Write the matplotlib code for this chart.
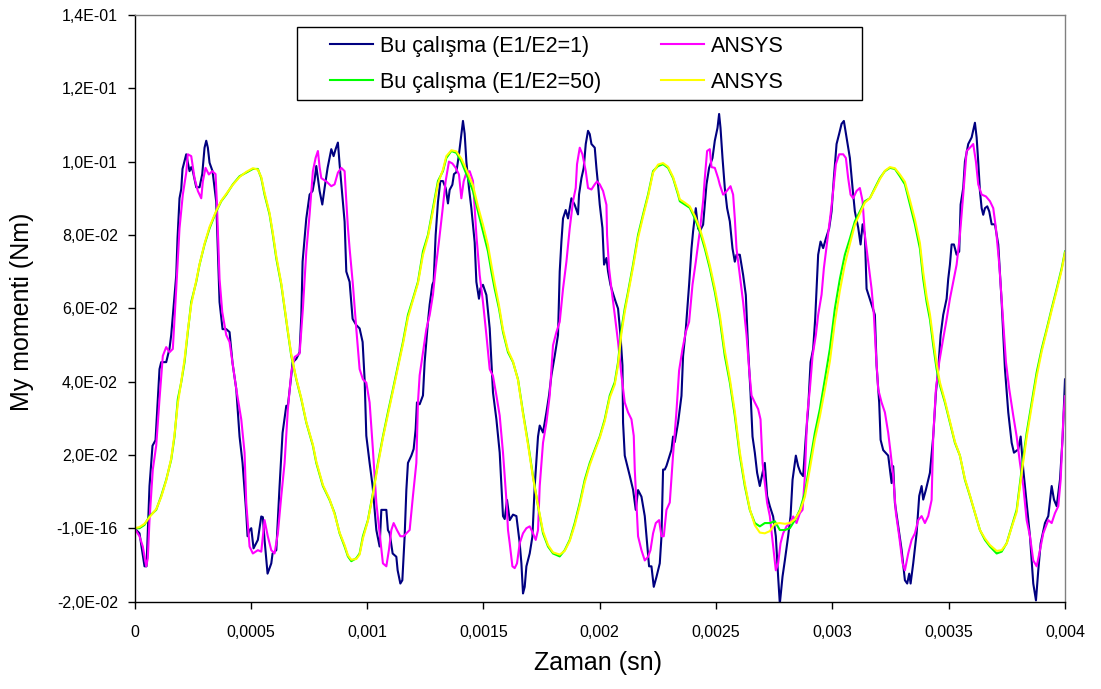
import numpy as np
import matplotlib
matplotlib.use("Agg")
import matplotlib.pyplot as plt
from matplotlib.patches import Rectangle

plt.rcParams['font.family'] = ['Liberation Sans', 'DejaVu Sans']

# ---- Time (microseconds) and My moment (Nm) samples ----
# Bu çalışma (E1/E2=1)
t_calisma_1 = [
    0, 21.5, 43, 51.6, 64.5, 77.4, 90.3, 107.5, 114.8, 136.3,
    150.5, 157.8, 163.4, 172, 179.4, 184.9, 193.5, 200.9, 206.4, 222.4,
    236.6, 243.9, 250.8, 265.4, 279.6, 291.2, 301.1, 308.4, 315.3, 322.6,
    335.5, 351.4, 357, 365.6, 378.5, 394.4, 408.6, 421.5, 437.4, 451.6,
    464.5, 480.4, 486, 494.6, 501.9, 511.8, 530.3, 544.9, 551.8, 559.1,
    572, 588, 593.5, 609.5, 623.6, 636.5, 652.5, 659.3, 674, 679.6,
    695.5, 709.7, 717, 722.6, 738.5, 752.7, 765.6, 774.2, 781.5, 795.7,
    807.3, 817.2, 830.1, 846, 855.9, 864.5, 874.4, 881.7, 894.6, 903.2,
    910.5, 924.7, 937.6, 953.5, 967.7, 980.6, 989.2, 996.5, 1010.7, 1023.6,
    1039.6, 1053.7, 1061.1, 1082.6, 1089.4, 1096.8, 1109.7, 1125.6, 1131.2, 1142.8,
    1151.4, 1161.3, 1168.6, 1175.5, 1190.1, 1200, 1208.6, 1214.2, 1225.8, 1240,
    1247.3, 1261.5, 1268.8, 1280.4, 1286, 1294.6, 1304.5, 1314.8, 1326, 1337.6,
    1347.5, 1354.8, 1366.4, 1373.3, 1383.6, 1394.8, 1405.1, 1412, 1419.3, 1426.6,
    1437.8, 1448.1, 1455, 1462.3, 1469.6, 1480.8, 1486.8, 1498, 1512.7, 1526.9,
    1541.1, 1555.7, 1569.9, 1584.1, 1591.4, 1601.3, 1612.9, 1627.1, 1641.7, 1655.9,
    1663.2, 1670.1, 1677.4, 1684.7, 1698.9, 1710.5, 1720.4, 1734.6, 1741.9, 1756.1,
    1770.7, 1781.9, 1792.2, 1806.4, 1820.6, 1827.9, 1835.2, 1842.1, 1853.7, 1863.6,
    1870.9, 1878.2, 1892.4, 1906.6, 1910.9, 1921.3, 1931.1, 1939.8, 1949.6, 1957,
    1964.3, 1978.5, 1985.8, 1992.7, 2000, 2011.6, 2018.5, 2028.8, 2035.7, 2046,
    2054.6, 2068.8, 2078.7, 2089, 2097.6, 2100.2, 2107.5, 2129, 2143.2, 2154.8,
    2164.7, 2179.3, 2193.5, 2203.4, 2212, 2222.3, 2232.2, 2243.8, 2258, 2265.3,
    2272.2, 2279.5, 2286.8, 2308.3, 2315.2, 2322.5, 2336.7, 2351.3, 2358.2, 2369.9,
    2375.4, 2384.1, 2394.4, 2401.3, 2412.9, 2422.8, 2430.1, 2444.3, 2458.9, 2470.1,
    2484.7, 2494.6, 2506.2, 2513.1, 2519.1, 2527.7, 2537.6, 2547.5, 2559.1, 2570.7,
    2580.6, 2587.9, 2602.1, 2616.3, 2627.9, 2637.8, 2648.1, 2656.7, 2666.6, 2676.5,
    2688.1, 2699.8, 2709.6, 2719.5, 2731.1, 2745.3, 2756.9, 2766.8, 2774.1, 2785.7,
    2795.7, 2809.8, 2820.2, 2828.8, 2843, 2852.9, 2863.2, 2874.4, 2886, 2895.9,
    2906.2, 2917.4, 2926, 2938.9, 2949.2, 2960.4, 2972, 2986.2, 2996.5, 3006.4,
    3018, 3029.2, 3039.5, 3049.4, 3061, 3075.2, 3086.8, 3096.7, 3111, 3121.3,
    3129.9, 3139.7, 3147, 3182.7, 3190, 3201.2, 3207.3, 3218.5, 3240, 3254.6,
    3261.5, 3268.8, 3283, 3297.6, 3311.8, 3321.7, 3330.3, 3336.3, 3347.5, 3362.1,
    3373.3, 3383.6, 3390.5, 3402.1, 3419.3, 3433.5, 3445.1, 3455, 3465.3, 3476.5,
    3491.1, 3498, 3505.3, 3512.6, 3522.5, 3534.1, 3545.3, 3551.3, 3562.5, 3569.8,
    3584, 3598.6, 3608.5, 3612.8, 3620.1, 3627, 3634.3, 3641.7, 3648.5, 3655.9,
    3665.8, 3674.4, 3684.7, 3698.9, 3713.1, 3727.7, 3741.9, 3756.1, 3770.7, 3780.6,
    3799.1, 3809.4, 3820.6, 3835.2, 3849.4, 3863.6, 3875.2, 3885.1, 3895.4, 3913.9,
    3928.1, 3942.7, 3952.6, 3964.2, 3978.4, 3990, 4000,
]
my_calisma_1 = [
    0.0, -0.0014, -0.0104, -0.0104, 0.0115, 0.0225, 0.024, 0.0434, 0.0453, 0.0453,
    0.049, 0.0527, 0.057, 0.0637, 0.069, 0.079, 0.09, 0.0925, 0.098, 0.102,
    0.0974, 0.0985, 0.0974, 0.093, 0.093, 0.0966, 0.1038, 0.1057, 0.1038, 0.0997,
    0.0974, 0.089, 0.078, 0.0617, 0.0543, 0.0543, 0.0535, 0.045, 0.038, 0.025,
    0.0178, 0.0041, -0.0022, -0.0005, 0.0, -0.0055, -0.0032, 0.0032, 0.003, -0.0032,
    -0.0124, -0.0096, -0.0069, -0.006, 0.0114, 0.026, 0.0334, 0.0334, 0.0417, 0.0452,
    0.0462, 0.048, 0.058, 0.0727, 0.0845, 0.091, 0.092, 0.095, 0.0988, 0.092,
    0.0883, 0.0928, 0.0983, 0.1034, 0.1015, 0.1034, 0.1052, 0.0993, 0.090, 0.0836,
    0.070, 0.0672, 0.0571, 0.0554, 0.0545, 0.0508, 0.0406, 0.0252, 0.0178, 0.0115,
    -0.0005, -0.005, 0.005, 0.005, -0.0005, -0.0014, -0.0069, -0.0078, -0.0115, -0.0151,
    -0.0142, -0.0022, 0.0104, 0.0178, 0.0198, 0.0216, 0.027, 0.0343, 0.0338, 0.0362,
    0.0453, 0.0563, 0.061, 0.0664, 0.0673, 0.080, 0.089, 0.0947, 0.0947, 0.0928,
    0.0886, 0.0923, 0.0937, 0.0966, 0.0971, 0.102, 0.1076, 0.1111, 0.1076, 0.100,
    0.0928, 0.0873, 0.0829, 0.078, 0.0672, 0.0626, 0.0654, 0.0664, 0.0636, 0.0545,
    0.037, 0.0297, 0.0206, 0.0033, 0.0025, 0.0077, 0.0022, 0.0037, 0.0033, -0.0041,
    -0.0096, -0.0178, -0.016, -0.0104, -0.0069, -0.0023, 0.0115, 0.025, 0.028, 0.0261,
    0.0316, 0.0362, 0.0417, 0.047, 0.0527, 0.070, 0.0782, 0.0845, 0.0868, 0.0845,
    0.0873, 0.090, 0.0882, 0.0856, 0.091, 0.0955, 0.0983, 0.1048, 0.1084, 0.1075,
    0.1048, 0.1038, 0.0982, 0.0937, 0.0883, 0.0819, 0.0719, 0.0737, 0.070, 0.0664,
    0.0645, 0.0617, 0.0599, 0.0527, 0.0444, 0.0288, 0.0198, 0.0143, 0.0105, 0.005,
    0.0104, 0.0086, 0.0033, -0.004, -0.0104, -0.0104, -0.016, -0.0133, -0.0096, -0.0023,
    0.016, 0.016, 0.017, 0.0214, 0.025, 0.0235, 0.0288, 0.0361, 0.047, 0.0543,
    0.0589, 0.0664, 0.0763, 0.081, 0.0873, 0.0818, 0.081, 0.0828, 0.0938, 0.0983,
    0.101, 0.1057, 0.1092, 0.113, 0.1092, 0.101, 0.0928, 0.0873, 0.0837, 0.0763,
    0.0727, 0.0746, 0.0746, 0.0691, 0.0636, 0.0489, 0.037, 0.025, 0.0206, 0.0151,
    0.0115, 0.0151, 0.0178, 0.0088, 0.006, 0.0032, -0.0022, -0.0132, -0.0206, -0.0132,
    -0.0088, -0.0022, 0.0033, 0.0132, 0.0198, 0.0169, 0.0151, 0.0142, 0.025, 0.0325,
    0.0453, 0.0489, 0.057, 0.0746, 0.0782, 0.0764, 0.079, 0.0818, 0.0864, 0.0955,
    0.1048, 0.1076, 0.1103, 0.1111, 0.1065, 0.101, 0.0928, 0.0864, 0.082, 0.0774,
    0.0829, 0.080, 0.0653, 0.0582, 0.0444, 0.0343, 0.0241, 0.0213, 0.0198, 0.0123,
    0.0169, 0.0069, 0.0005, -0.0059, -0.0142, -0.0151, -0.0124, -0.0151, -0.0096, -0.0014,
    0.0088, 0.0115, 0.0078, 0.0105, 0.0151, 0.025, 0.037, 0.0434, 0.0527, 0.0582,
    0.0626, 0.068, 0.0719, 0.0774, 0.0774, 0.0746, 0.0755, 0.0883, 0.0928, 0.100,
    0.1048, 0.1066, 0.1093, 0.1106, 0.1066, 0.100, 0.092, 0.0873, 0.0855, 0.0873,
    0.0878, 0.0864, 0.0829, 0.0829, 0.0774, 0.0617, 0.0434, 0.0316, 0.0233, 0.0206,
    0.0215, 0.025, 0.016, 0.0069, -0.0022, -0.0151, -0.0197, -0.0115, -0.0041, 0.0014,
    0.0033, 0.0115, 0.0078, 0.006, 0.0132, 0.025, 0.0406,
]

# ANSYS (E1/E2=1)
t_ansys_1 = [
    0, 21.5, 35.7, 50.3, 57.2, 64.5, 78.7, 93.3, 107.5, 121.7,
    136.3, 150.5, 164.7, 179.4, 193.5, 207.7, 222.4, 229.2, 243.9, 258.1,
    272.3, 286.9, 293.8, 305.4, 319.6, 334.2, 348.4, 354, 365.6, 377.2,
    394.4, 408.6, 422.8, 437.4, 458.9, 473.1, 480.4, 494.6, 508.8, 530.3,
    544.9, 559.1, 573.3, 588, 602.1, 616.3, 631, 645.2, 659.3, 674,
    688.2, 709.7, 723.9, 738.5, 752.7, 766.9, 778.5, 788.4, 795.7, 803,
    824.5, 846, 860.2, 874.4, 889, 903.2, 910.5, 917.4, 924.7, 938.9,
    953.5, 967.7, 981.9, 996.5, 1010.7, 1024.9, 1039.6, 1053.7, 1067.9, 1082.6,
    1093.8, 1104.1, 1114, 1128.2, 1142.8, 1157, 1168.6, 1182.8, 1197, 1211.6,
    1218.5, 1225.8, 1240, 1254.6, 1268.8, 1283, 1294.6, 1308.8, 1323.4, 1337.6,
    1351.8, 1366.4, 1380.6, 1394.8, 1405.1, 1415, 1426.6, 1440.8, 1455, 1469.6,
    1483.8, 1498, 1512.7, 1526.9, 1541.1, 1555.7, 1569.9, 1584.1, 1598.7, 1605.6,
    1612.9, 1624.5, 1634.4, 1644.3, 1655.9, 1670.1, 1684.7, 1698.9, 1713.1, 1724.7,
    1734.6, 1741.9, 1756.1, 1770.7, 1784.9, 1792.2, 1799.1, 1813.7, 1827.9, 1842.1,
    1856.7, 1870.9, 1885.1, 1896.7, 1902.3, 1914, 1925.6, 1939.8, 1949.6, 1964.3,
    1978.5, 1988.4, 2000, 2014.2, 2028.8, 2031.4, 2040, 2050.3, 2064.5, 2078.7,
    2093.3, 2107.5, 2121.7, 2136.3, 2146.2, 2150.5, 2157.8, 2164.7, 2179.3, 2193.5,
    2207.7, 2218, 2229.2, 2240.9, 2255, 2265.3, 2275.2, 2286.8, 2301, 2315.2,
    2329.9, 2341.1, 2355.6, 2369.9, 2384.1, 2398.7, 2412.9, 2430.1, 2444.3, 2451.6,
    2461.5, 2473.1, 2480.4, 2494.6, 2508.8, 2516.1, 2530.3, 2544.9, 2562.1, 2573.3,
    2580.6, 2587.9, 2602.1, 2616.3, 2630.9, 2642.1, 2652.5, 2666.6, 2680.9, 2691.1,
    2699.8, 2709.6, 2719.5, 2731.1, 2745.3, 2756.9, 2766.8, 2777.2, 2788.4, 2803,
    2817.2, 2831.4, 2846, 2860.2, 2871.8, 2881.7, 2891.6, 2903.2, 2914.8, 2929,
    2938.9, 2953.5, 2963.4, 2977.6, 2992.2, 3003.4, 3015, 3029.2, 3046.4, 3058,
    3067.9, 3078.2, 3089.4, 3104, 3118.2, 3129.9, 3139.7, 3153.9, 3168.5, 3178.4,
    3187, 3196.9, 3211.5, 3225.8, 3240, 3250.3, 3261.5, 3273.1, 3287.3, 3301.9,
    3311.8, 3326, 3340.6, 3354.8, 3369, 3383.6, 3397.8, 3412, 3426.6, 3433.5,
    3445.1, 3459.3, 3473.9, 3491.1, 3505.3, 3519.5, 3534.1, 3548.3, 3562.5, 3577.1,
    3591.3, 3605.5, 3617.1, 3627, 3641.7, 3660.2, 3677.4, 3691.6, 3703.2, 3717.4,
    3732, 3746.2, 3760.4, 3777.6, 3792.2, 3806.4, 3820.6, 3835.2, 3849.4, 3863.6,
    3878.2, 3892.4, 3906.6, 3928.1, 3942.7, 3956.9, 3971.1, 3981.4, 3992.6, 4000,
]
my_ansys_1 = [
    0.0, -0.0022, -0.005, -0.0104, -0.0082, 0.0022, 0.016, 0.0225, 0.0352, 0.047,
    0.0494, 0.048, 0.0489, 0.0653, 0.0818, 0.091, 0.097, 0.102, 0.1015, 0.0955,
    0.092, 0.090, 0.0946, 0.0983, 0.0965, 0.0974, 0.0966, 0.089, 0.068, 0.059,
    0.0527, 0.0508, 0.0444, 0.038, 0.0297, 0.0206, 0.0069, -0.005, -0.0069, -0.006,
    -0.0064, 0.0022, -0.0023, -0.006, -0.0069, -0.0014, 0.0088, 0.0178, 0.0325, 0.0425,
    0.0467, 0.0476, 0.0599, 0.0755, 0.0856, 0.0974, 0.101, 0.1029, 0.0985, 0.0955,
    0.0946, 0.0933, 0.0938, 0.097, 0.0983, 0.0974, 0.0892, 0.082, 0.0763, 0.0664,
    0.0543, 0.0434, 0.0406, 0.0397, 0.0343, 0.0214, 0.0069, -0.0014, -0.0096, -0.0104,
    -0.0059, -0.0005, 0.0014, -0.0005, -0.0022, -0.0022, -0.0014, -0.0005, 0.0088, 0.0178,
    0.0343, 0.0417, 0.048, 0.0543, 0.0581, 0.0637, 0.0709, 0.0782, 0.0864, 0.0947,
    0.100, 0.0995, 0.0983, 0.0965, 0.090, 0.0946, 0.097, 0.0974, 0.0947, 0.080,
    0.0691, 0.0617, 0.0527, 0.0434, 0.0415, 0.0362, 0.0307, 0.0206, 0.0077, -0.0005,
    -0.0041, -0.0104, -0.0109, -0.0096, -0.0041, -0.0014, 0.0, 0.0005, -0.0014, -0.0032,
    -0.0005, 0.0115, 0.0233, 0.0288, 0.0362, 0.0434, 0.0499, 0.0535, 0.0563, 0.0653,
    0.0727, 0.0818, 0.0892, 0.0928, 0.0993, 0.1038, 0.102, 0.0974, 0.0928, 0.0924,
    0.0938, 0.0946, 0.0938, 0.092, 0.0882, 0.080, 0.0709, 0.0653, 0.0582, 0.0508,
    0.0417, 0.0343, 0.0316, 0.0297, 0.0252, 0.016, 0.0069, -0.0022, -0.006, -0.0088,
    -0.0078, -0.006, -0.0014, 0.0014, 0.0022, -0.0022, -0.0022, 0.005, 0.007, 0.020,
    0.032, 0.043, 0.0489, 0.0535, 0.0563, 0.0664, 0.0727, 0.081, 0.0892, 0.0955,
    0.1029, 0.1034, 0.0985, 0.0983, 0.0955, 0.0937, 0.091, 0.0919, 0.0933, 0.091,
    0.0845, 0.0763, 0.0691, 0.0617, 0.0527, 0.0434, 0.0362, 0.0343, 0.0325, 0.0297,
    0.0178, 0.0124, 0.0069, 0.0033, -0.005, -0.0115, -0.0096, -0.0041, -0.0014, 0.0005,
    0.0014, 0.0032, 0.0014, 0.0041, 0.005, 0.0142, 0.0307, 0.0379, 0.047, 0.0527,
    0.0582, 0.0637, 0.0709, 0.0782, 0.0856, 0.092, 0.0993, 0.102, 0.102, 0.101,
    0.0955, 0.091, 0.090, 0.092, 0.0928, 0.0892, 0.080, 0.0727, 0.0653, 0.0582,
    0.048, 0.0379, 0.0343, 0.0316, 0.026, 0.0206, 0.0142, 0.0041, -0.0022, -0.0096,
    -0.0115, -0.0069, -0.0032, -0.0014, 0.0022, 0.0033, 0.0014, 0.0033, 0.0077, 0.025,
    0.0379, 0.0453, 0.0508, 0.057, 0.0626, 0.0672, 0.0719, 0.080, 0.091, 0.1029,
    0.1038, 0.1048, 0.100, 0.0938, 0.091, 0.0905, 0.0892, 0.0873, 0.0818, 0.0719,
    0.0582, 0.0453, 0.0379, 0.0307, 0.025, 0.0178, 0.0115, 0.0022, -0.0022, -0.0088,
    -0.0104, -0.006, -0.0014, 0.0022, 0.0014, 0.0041, 0.006, 0.0132, 0.0297, 0.036,
]

# E1/E2=50 : shared time base for both solutions
t_50 = [
    0, 21.5, 43, 64.5, 93.3, 114.8, 136.3, 157.8, 172, 186.2,
    200.9, 215.1, 229.2, 243.9, 265.4, 279.6, 301.1, 322.6, 351.4, 372.9,
    394.4, 422.8, 451.6, 480.4, 508.8, 530.3, 544.9, 559.1, 580.6, 594.8,
    609.5, 631, 645.2, 659.3, 674, 695.5, 717, 738.5, 766.9, 781.5,
    809.9, 838.7, 860.2, 881.7, 903.2, 917.4, 932, 953.5, 967.7, 981.9,
    1003.4, 1024.9, 1046.4, 1067.9, 1089.4, 1111, 1132.5, 1154, 1175.5, 1197,
    1218.5, 1240, 1261.5, 1283, 1304.5, 1326, 1340.6, 1362.1, 1383.6, 1405.1,
    1426.6, 1455, 1476.5, 1498, 1519.5, 1534.2, 1548.4, 1566.9, 1584.1, 1605.6,
    1627.1, 1648.6, 1670.1, 1691.6, 1713.1, 1734.6, 1756.1, 1777.6, 1799.1, 1827.9,
    1849.4, 1870.9, 1892.4, 1914, 1935.5, 1957, 1978.5, 2000, 2021.5, 2043,
    2064.5, 2078.7, 2093.3, 2107.5, 2121.7, 2143.2, 2164.7, 2186.2, 2207.7, 2229.2,
    2250.7, 2272.2, 2293.7, 2315.2, 2336.7, 2344.1, 2365.6, 2387.1, 2408.6, 2430.1,
    2451.6, 2473.1, 2494.6, 2516.1, 2537.6, 2559.1, 2580.6, 2602.1, 2623.6, 2645.1,
    2666.6, 2688.1, 2709.6, 2731.1, 2752.6, 2774.1, 2795.7, 2817.2, 2838.7, 2860.2,
    2881.7, 2903.2, 2924.7, 2946.2, 2967.7, 2989.2, 3010.7, 3032.2, 3053.7, 3075.2,
    3096.7, 3118.2, 3139.7, 3161.2, 3182.7, 3204.2, 3225.8, 3247.3, 3268.8, 3290.3,
    3311.8, 3333.3, 3354.8, 3376.3, 3390.5, 3405.1, 3419.3, 3433.5, 3448.1, 3462.3,
    3483.8, 3505.3, 3526.8, 3548.3, 3569.8, 3591.3, 3612.8, 3634.3, 3655.9, 3677.4,
    3706.2, 3727.7, 3749.2, 3770.7, 3792.2, 3813.7, 3835.2, 3856.7, 3878.2, 3899.8,
    3921.3, 3942.7, 3964.2, 3985.7, 4000,
]
# Bu çalışma (E1/E2=50)
my_calisma_50 = [
    0.0, 0.0, 0.0009, 0.0033, 0.005, 0.0088, 0.0132, 0.0187, 0.025, 0.0352,
    0.0398, 0.0453, 0.0535, 0.0617, 0.0672, 0.0719, 0.0774, 0.0818, 0.0864, 0.0892,
    0.091, 0.0938, 0.096, 0.097, 0.098, 0.098, 0.0955, 0.091, 0.0856, 0.080,
    0.0736, 0.0664, 0.0599, 0.0535, 0.047, 0.0406, 0.0352, 0.0288, 0.0225, 0.0178,
    0.0115, 0.0077, 0.0041, -0.0014, -0.005, -0.0077, -0.009, -0.0082, -0.0069, -0.0022,
    0.0022, 0.0096, 0.0178, 0.025, 0.0316, 0.0379, 0.0444, 0.0508, 0.0582, 0.0626,
    0.0672, 0.0755, 0.080, 0.0873, 0.0947, 0.0974, 0.101, 0.1029, 0.1024, 0.100,
    0.0966, 0.092, 0.0864, 0.081, 0.0755, 0.070, 0.0653, 0.0599, 0.0535, 0.048,
    0.0453, 0.0406, 0.0316, 0.0233, 0.0142, 0.006, -0.0014, -0.005, -0.0069, -0.0077,
    -0.006, -0.0032, 0.0014, 0.0069, 0.0132, 0.0178, 0.0214, 0.025, 0.0297, 0.0362,
    0.0398, 0.0453, 0.0543, 0.0599, 0.0645, 0.0719, 0.080, 0.0856, 0.091, 0.0974,
    0.0988, 0.0993, 0.0983, 0.0955, 0.091, 0.0892, 0.0883, 0.0874, 0.0845, 0.081,
    0.0763, 0.0709, 0.0645, 0.057, 0.047, 0.0398, 0.0307, 0.0198, 0.0115, 0.005,
    0.0014, 0.0005, 0.0014, 0.0014, 0.0019, -0.0005, -0.0005, 0.0, 0.0022, 0.005,
    0.0096, 0.0178, 0.026, 0.0325, 0.0406, 0.0489, 0.0599, 0.068, 0.0746, 0.079,
    0.0837, 0.0864, 0.0892, 0.090, 0.0928, 0.0955, 0.0974, 0.0983, 0.098, 0.096,
    0.0938, 0.0883, 0.0829, 0.0763, 0.068, 0.0617, 0.057, 0.0499, 0.0434, 0.039,
    0.0343, 0.0288, 0.0233, 0.0198, 0.0132, 0.0088, 0.0041, -0.0005, -0.0032, -0.005,
    -0.0069, -0.0064, -0.0041, 0.0005, 0.005, 0.016, 0.026, 0.0343, 0.0425, 0.0489,
    0.0543, 0.0599, 0.0653, 0.0709, 0.0755,
]
# ANSYS (E1/E2=50)
my_ansys_50 = [
    0.0, 0.0003, 0.0012, 0.003, 0.0052, 0.0085, 0.013, 0.019, 0.0255, 0.034,
    0.040, 0.046, 0.054, 0.061, 0.0675, 0.072, 0.0776, 0.0822, 0.0866, 0.0893,
    0.0912, 0.0937, 0.0958, 0.0972, 0.0982, 0.0978, 0.0958, 0.0915, 0.086, 0.0805,
    0.0742, 0.0668, 0.0603, 0.0538, 0.0474, 0.0408, 0.0355, 0.029, 0.0228, 0.0182,
    0.0118, 0.0079, 0.0038, -0.0012, -0.0046, -0.0074, -0.0086, -0.0084, -0.0072, -0.0028,
    0.002, 0.0092, 0.0172, 0.0246, 0.031, 0.0374, 0.0438, 0.0502, 0.0574, 0.0622,
    0.0668, 0.0745, 0.0795, 0.0865, 0.094, 0.0978, 0.1015, 0.1031, 0.1028, 0.1008,
    0.0978, 0.0935, 0.0878, 0.0828, 0.0772, 0.0718, 0.0668, 0.0608, 0.0542, 0.0485,
    0.0455, 0.0404, 0.0312, 0.0228, 0.0138, 0.0062, -0.0008, -0.0046, -0.0066, -0.0072,
    -0.0062, -0.0035, 0.0008, 0.0062, 0.0125, 0.0172, 0.021, 0.0246, 0.0292, 0.0356,
    0.0392, 0.0445, 0.0532, 0.059, 0.0638, 0.0712, 0.0792, 0.085, 0.0905, 0.097,
    0.0992, 0.0996, 0.0986, 0.0958, 0.0915, 0.0897, 0.0888, 0.0878, 0.0852, 0.0818,
    0.0772, 0.0718, 0.0655, 0.0582, 0.0484, 0.0408, 0.0318, 0.0208, 0.0122, 0.0052,
    0.0008, -0.0012, -0.0014, -0.0008, 0.0012, 0.0014, 0.0012, 0.0014, 0.0024, 0.0046,
    0.0085, 0.0162, 0.0242, 0.0305, 0.0378, 0.0455, 0.0562, 0.0648, 0.072, 0.0775,
    0.0828, 0.0858, 0.0888, 0.090, 0.0925, 0.0952, 0.0975, 0.0985, 0.0982, 0.0965,
    0.0945, 0.0895, 0.0842, 0.0778, 0.0698, 0.0632, 0.0584, 0.0515, 0.0448, 0.0398,
    0.0348, 0.0292, 0.0236, 0.0198, 0.0135, 0.009, 0.0042, -0.0005, -0.0028, -0.0046,
    -0.0062, -0.006, -0.0042, 0.0002, 0.0044, 0.015, 0.0248, 0.0332, 0.0414, 0.0482,
    0.0538, 0.0594, 0.0648, 0.0704, 0.0752,
]

series_labels = ["Bu çalışma (E1/E2=1)", "ANSYS", "Bu çalışma (E1/E2=50)", "ANSYS"]
series_colors = ["#000080", "#FF00FF", "#00FF00", "#FFFF00"]

x_ticks = [0, 0.0005, 0.001, 0.0015, 0.002, 0.0025, 0.003, 0.0035, 0.004]
x_tick_labels = ["0", "0,0005", "0,001", "0,0015", "0,002", "0,0025", "0,003", "0,0035", "0,004"]
y_ticks = [-0.02, 0.0, 0.02, 0.04, 0.06, 0.08, 0.10, 0.12, 0.14]
y_tick_labels = ["-2,0E-02", "-1,0E-16", "2,0E-02", "4,0E-02", "6,0E-02",
                 "8,0E-02", "1,0E-01", "1,2E-01", "1,4E-01"]

# ---- Figure (pixel-based layout) ----
W, H = 1101, 689
fig = plt.figure(figsize=(W / 100, H / 100), dpi=100)
ax_left, ax_right, ax_top, ax_bottom = 134.5, 1065, 15, 601.5
ax = fig.add_axes([ax_left / W, 1 - ax_bottom / H,
                   (ax_right - ax_left) / W, (ax_bottom - ax_top) / H])

data = [
    (t_calisma_1, my_calisma_1),
    (t_ansys_1, my_ansys_1),
    (t_50, my_calisma_50),
    (t_50, my_ansys_50),
]
lines = []
for (t_us, vals), lab, col in zip(data, series_labels, series_colors):
    ln, = ax.plot(np.asarray(t_us) * 1e-6, vals, color=col, lw=1.5, label=lab)
    lines.append(ln)

ax.set_xlim(0, 0.004)
ax.set_ylim(-0.02, 0.14)
ax.set_xticks(x_ticks)
ax.set_xticklabels(x_tick_labels)
ax.set_yticks(y_ticks)
ax.set_yticklabels(y_tick_labels)
ax.tick_params(axis="both", direction="out", length=5, width=1, labelsize=11.5,
               colors="black")
ax.tick_params(axis="y", pad=7)
ax.tick_params(axis="x", pad=12)

for side in ("left", "bottom"):
    ax.spines[side].set_color("black")
    ax.spines[side].set_linewidth(1.0)
for side in ("top", "right"):
    ax.spines[side].set_color("#808080")
    ax.spines[side].set_linewidth(1.0)

fig.text(22 / W, 1 - 312 / H, "My momenti (Nm)", rotation=90, ha="center",
         va="center", fontsize=18)
fig.text(598 / W, 1 - 663 / H, "Zaman (sn)", ha="center", va="center", fontsize=18)

# ---- Legend: frame box plus two-column entries ----
leg_fs = 15.5
leg_px = leg_fs * 100 / 72
box_l, box_r, box_t, box_b = 297, 862, 27, 100
ax.add_patch(Rectangle((box_l / W, 1 - box_b / H), (box_r - box_l) / W,
                       (box_b - box_t) / H, transform=fig.transFigure,
                       facecolor="white", edgecolor="black", lw=1.0,
                       clip_on=False, zorder=4))

fig.canvas.draw()
renderer = fig.canvas.get_renderer()


def text_width(s):
    t = fig.text(0, 0, s, fontsize=leg_fs)
    w = t.get_window_extent(renderer).width
    t.remove()
    return w


handle_len, text_pad = 2.0, 0.3
col1_w = max(text_width(series_labels[0]), text_width(series_labels[2]))
col1_x, col2_x = 330, 661
col_space = (col2_x - col1_x - (handle_len + text_pad) * leg_px - col1_w) / leg_px

order = [0, 2, 1, 3]
leg = ax.legend([lines[i] for i in order], [series_labels[i] for i in order],
                ncol=2, loc="upper left",
                bbox_to_anchor=(col1_x / W, 1 - 36 / H),
                bbox_transform=fig.transFigure, borderaxespad=0, borderpad=0,
                fontsize=leg_fs, frameon=False, handlelength=handle_len,
                handletextpad=text_pad, columnspacing=col_space,
                labelspacing=0.68)
leg.set_zorder(5)

fig.savefig("out.png", dpi=100, facecolor="white")
